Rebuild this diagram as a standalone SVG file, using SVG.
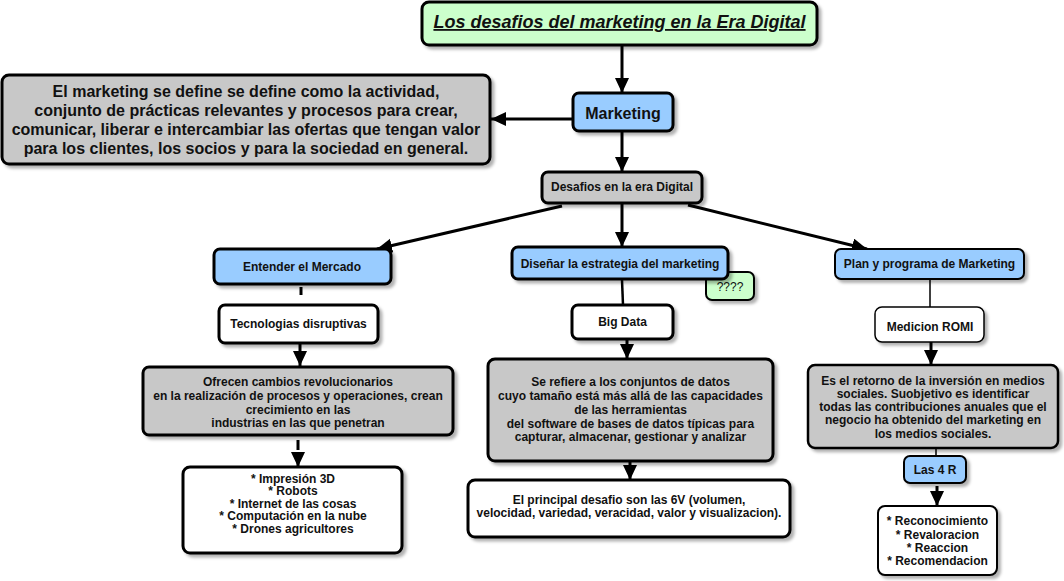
<svg xmlns="http://www.w3.org/2000/svg" width="1064" height="581" viewBox="0 0 1064 581">
<defs>
<filter id="sh" x="-10%" y="-10%" width="130%" height="140%">
<feDropShadow dx="3" dy="3" stdDeviation="1.5" flood-color="#000" flood-opacity="0.3"/>
</filter>
<marker id="ah" markerUnits="userSpaceOnUse" markerWidth="16" markerHeight="16" refX="15" refY="7" orient="auto">
<path d="M0,0 L15,7 L0,14 z" fill="#000"/>
</marker>
<style>
.box{stroke:#000;stroke-width:3;filter:url(#sh)}
.thin{stroke-width:2}
.blue{fill:#99ccff}
.gray{fill:#c8c8c8}
.green{fill:#ccffcc}
.white{fill:#fff}
text{font-family:"Liberation Sans",Arial,sans-serif;font-weight:bold;font-size:12px;fill:#111;text-anchor:middle}
.c{fill:none;stroke:#000;stroke-width:3}
.ca{fill:none;stroke:#000;stroke-width:3;marker-end:url(#ah)}
</style>
</defs>
<g id="connectors">
<path class="ca" d="M622,46 L622,93"/>
<path class="ca" d="M573,119 L491,119"/>
<path class="ca" d="M622,131 L622,172"/>
<path class="ca" d="M562,206 L377,249"/>
<path class="ca" d="M622,204 L622,247"/>
<path class="ca" d="M688,205 L867,249"/>
<path class="c" d="M301,287 L301,295"/>
<path class="ca" d="M300,344 L300,366"/>
<path class="c" d="M298,440 L298,450"/>
<path class="ca" d="M298,452 L298,467"/>
<path class="c" style="stroke-width:2.5" d="M622,280 L623,305"/>
<path class="ca" d="M627,340 L627,359"/>
<path class="ca" d="M630,462 L630,480"/>
<path class="c" style="stroke-width:1.5" d="M930,279 L930,307"/>
<path class="ca" d="M931,342 L931,365"/>
<path class="c" style="stroke-width:1.5" d="M936,448 L936,457"/>
<path class="ca" d="M937,486 L937,506"/>
</g>
<g id="title">
<rect class="box green" x="422" y="2" width="395" height="43" rx="7"/>
<text x="619.5" y="28" style="font-size:18px;font-style:italic;text-decoration:underline">Los desafios del marketing en la Era Digital</text>
</g>
<g id="definicion">
<rect class="box gray" x="2" y="75" width="488" height="89" rx="7"/>
<text style="font-size:16px" x="246" y="97">El marketing se define se define como la actividad,</text>
<text style="font-size:16px" x="246" y="116">conjunto de prácticas relevantes y procesos para crear,</text>
<text style="font-size:16px" x="246" y="135">comunicar, liberar e intercambiar las ofertas que tengan valor</text>
<text style="font-size:16px" x="246" y="154">para los clientes, los socios y para la sociedad en general.</text>
</g>
<g id="marketing">
<rect class="box blue" x="573" y="93" width="100" height="38" rx="6"/>
<text style="font-size:16px" x="623" y="119">Marketing</text>
</g>
<g id="desafios">
<rect class="box gray" x="542" y="172" width="160" height="31" rx="6"/>
<text x="622" y="191">Desafios en la era Digital</text>
</g>
<g id="entender">
<rect class="box blue" x="214" y="249" width="177" height="35" rx="6"/>
<text x="302" y="271">Entender el Mercado</text>
</g>
<g id="tecnologias">
<rect class="box white" x="219" y="305" width="159" height="38" rx="6"/>
<text x="298.5" y="327.5">Tecnologias disruptivas</text>
</g>
<g id="ofrecen">
<rect class="box gray" x="143" y="367" width="310" height="68" rx="6"/>
<text x="298" y="386">Ofrecen cambios revolucionarios</text>
<text x="298" y="400">en la realización de procesos y operaciones, crean</text>
<text x="298" y="413.5">crecimiento en las</text>
<text x="298" y="427">industrias en las que penetran</text>
</g>
<g id="lista-tecnologias">
<rect class="box white" x="183" y="467" width="219" height="86" rx="7"/>
<text x="293" y="482.5">* Impresión 3D</text>
<text x="293" y="495">* Robots</text>
<text x="293" y="507.5">* Internet de las cosas</text>
<text x="293" y="520">* Computación en la nube</text>
<text x="293" y="532.5">* Drones agricultores</text>
</g>
<g id="nota">
<rect class="box green thin" x="706" y="272" width="48" height="28" rx="6"/>
<text x="730" y="291" style="font-weight:normal">????</text>
</g>
<g id="disenar">
<rect class="box blue" x="512" y="247" width="216" height="32" rx="6"/>
<text x="620" y="267.5">Diseñar la estrategia del marketing</text>
</g>
<g id="bigdata">
<rect class="box white" x="572" y="305" width="101" height="34" rx="6"/>
<text x="622.5" y="326">Big Data</text>
</g>
<g id="serefiere">
<rect class="box gray" x="488" y="359" width="285" height="102" rx="7"/>
<text x="630.5" y="386">Se refiere a los conjuntos de datos</text>
<text x="630.5" y="400">cuyo tamaño está más allá de las capacidades</text>
<text x="630.5" y="413.5">de las herramientas</text>
<text x="630.5" y="427.5">del software de bases de datos típicas para</text>
<text x="630.5" y="441">capturar, almacenar, gestionar y analizar</text>
</g>
<g id="principal">
<rect class="box white" x="468" y="480" width="322" height="57" rx="7"/>
<text x="629" y="503.5">El principal desafio son las 6V (volumen,</text>
<text x="629" y="517">velocidad, variedad, veracidad, valor y visualizacion).</text>
</g>
<g id="plan">
<rect class="box blue thin" x="835" y="249" width="189" height="30" rx="6"/>
<text x="929.5" y="268">Plan y programa de Marketing</text>
</g>
<g id="medicion">
<rect class="box white" style="stroke-width:1.5" x="875" y="307" width="109" height="35" rx="7"/>
<text x="930" y="330.5">Medicion ROMI</text>
</g>
<g id="retorno">
<rect class="box gray" style="stroke-width:2.5" x="808" y="365" width="250" height="83" rx="7"/>
<text x="933" y="384.5">Es el retorno de la inversión en medios</text>
<text x="933" y="397.8">sociales. Suobjetivo es identificar</text>
<text x="933" y="411.1">todas las contribuciones anuales que el</text>
<text x="933" y="424.4">negocio ha obtenido del marketing en</text>
<text x="933" y="437.7">los medios sociales.</text>
</g>
<g id="las4r">
<rect class="box blue thin" x="904" y="456" width="62" height="27" rx="6"/>
<text x="935" y="474">Las 4 R</text>
</g>
<g id="lista-4r">
<rect class="box white thin" x="878" y="506" width="119" height="69" rx="7"/>
<text x="937.5" y="525.3">* Reconocimiento</text>
<text x="937.5" y="538.6">* Revaloracion</text>
<text x="937.5" y="552">* Reaccion</text>
<text x="937.5" y="565.3">* Recomendacion</text>
</g>
</svg>
